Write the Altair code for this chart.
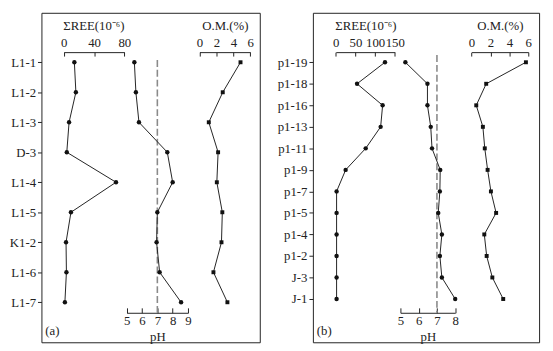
import altair as alt
import pandas as pd

# ---------------- data ----------------
samples_a = ["L1-1", "L1-2", "L1-3", "D-3", "L1-4", "L1-5", "K1-2", "L1-6", "L1-7"]
ree_a = [14, 16, 7, 4, 69, 9.5, 3, 3.5, 1.5]
ph_a = [5.5, 5.6, 5.8, 7.65, 8.0, 7.0, 6.95, 7.15, 8.55]
om_a = [4.85, 2.75, 1.1, 2.2, 2.05, 2.7, 2.6, 1.65, 3.3]

samples_b = ["p1-19", "p1-18", "p1-16", "p1-13", "p1-11", "p1-9",
             "p1-7", "p1-5", "p1-4", "p1-2", "J-3", "J-1"]
ree_b = [125, 54, 119, 114, 76, 25, 2, 2, 2, 2, 2, 2]
ph_b = [5.27, 6.48, 6.48, 6.66, 6.73, 7.18, 7.16, 7.07, 7.27, 7.16, 7.27, 8.0]
om_b = [5.75, 1.55, 0.5, 1.2, 1.4, 1.7, 2.05, 2.6, 1.35, 1.6, 2.2, 3.35]

ree_ticks_a = [0, 40, 80]
ph_ticks_a = [5, 6, 7, 8, 9]
ree_ticks_b = [0, 50, 100, 150]
ph_ticks_b = [5, 6, 7, 8]
om_ticks = [0, 2, 4, 6]
ph_neutral = [7]

REE_TITLE = "ΣREE(10⁻⁶)"
OM_TITLE = "O.M.(%)"
PH_TITLE = "pH"

FONT = "Liberation Serif"
FS = 13
INK = "#222"
H = 335          # plot height
TOP_AX = 40      # y of top axes inside the frame
BOT_AX = 305     # y of pH axis inside the frame


def tick_axis(orient, offset, ticks, size):
    return alt.Axis(orient=orient, offset=offset, values=ticks, labels=False, title=None,
                    ticks=True, tickSize=size, tickColor=INK, tickWidth=1,
                    domain=True, domainColor=INK, domainWidth=1, grid=False)


def label_axis(orient, offset, ticks, title, tx, ty, talign, pad=3):
    return alt.Axis(orient=orient, offset=offset, values=ticks, ticks=False, tickSize=0,
                    domain=False, grid=False, labelPadding=pad, labelFont=FONT,
                    labelFontSize=FS, labelColor=INK, labelFlush=False, labelOverlap=False,
                    title=title, titleFont=FONT, titleFontSize=FS, titleFontWeight="normal",
                    titleColor=INK, titleX=tx, titleY=ty, titleAlign=talign,
                    titleBaseline="middle", titleAngle=0)


def panel(samples, ree, ph, om, width, y_range, ree_dom, ree_rng, ree_ticks,
          ph_dom, ph_rng, ph_ticks, om_rng, rule_top, tag):
    df = pd.DataFrame({"sample": samples, "REE": ree, "pH": ph, "OM": om,
                       "order": list(range(len(samples)))})
    base = alt.Chart(df)
    y = alt.Y("sample:N", sort=samples,
              scale=alt.Scale(domain=samples, range=y_range, padding=0),
              axis=alt.Axis(title=None, orient="left", domain=False, ticks=True,
                            tickSize=4, tickColor=INK, labelPadding=2, labelFont=FONT,
                            labelFontSize=FS, labelColor=INK, grid=False))
    order = alt.Order("order:Q")

    ree_sc = alt.Scale(domain=ree_dom, range=ree_rng, nice=False, zero=False)
    ph_sc = alt.Scale(domain=ph_dom, range=ph_rng, nice=False, zero=False)
    om_sc = alt.Scale(domain=[0, 6], range=om_rng, nice=False, zero=False)

    line_kw = dict(color=INK, strokeWidth=1)
    pt_kw = dict(filled=True, color="#111", opacity=1)

    ree_line = base.mark_line(**line_kw).encode(
        x=alt.X("REE:Q", scale=ree_sc, axis=tick_axis("bottom", TOP_AX - H, ree_ticks, 4)),
        y=y, order=order)
    ree_pts = base.mark_point(shape="circle", size=20, **pt_kw).encode(
        x=alt.X("REE:Q", scale=ree_sc,
                axis=label_axis("top", -TOP_AX, ree_ticks, REE_TITLE, ree_rng[0] - 1, -27, "left")),
        y=y)

    ph_rule = alt.Chart(pd.DataFrame({"pH": ph_neutral})).mark_rule(
        strokeDash=[7, 3], color="#8a8a8a", strokeWidth=1.6).encode(
        x=alt.X("pH:Q", scale=ph_sc, axis=None),
        y=alt.value(rule_top), y2=alt.value(BOT_AX))
    ph_line = base.mark_line(**line_kw).encode(
        x=alt.X("pH:Q", scale=ph_sc, axis=tick_axis("top", -BOT_AX, ph_ticks, 5)),
        y=y, order=order)
    ph_pts = base.mark_point(shape="circle", size=20, **pt_kw).encode(
        x=alt.X("pH:Q", scale=ph_sc,
                axis=label_axis("bottom", BOT_AX - H, ph_ticks, PH_TITLE,
                                (ph_rng[0] + ph_rng[1]) / 2, 24, "center", pad=2)),
        y=y)

    om_line = base.mark_line(**line_kw).encode(
        x=alt.X("OM:Q", scale=om_sc, axis=tick_axis("bottom", TOP_AX - H, om_ticks, 4)),
        y=y, order=order)
    om_pts = base.mark_point(shape="square", size=16, **pt_kw).encode(
        x=alt.X("OM:Q", scale=om_sc,
                axis=label_axis("top", -TOP_AX, om_ticks, OM_TITLE,
                                (om_rng[0] + om_rng[1]) / 2, -27, "center")),
        y=y)

    tag_txt = alt.Chart(pd.DataFrame({"t": [tag]})).mark_text(
        align="left", baseline="middle", font=FONT, fontSize=FS, color=INK).encode(
        text="t:N", x=alt.value(4), y=alt.value(324))

    return alt.layer(ree_line, ree_pts, ph_rule, ph_line, ph_pts, om_line, om_pts, tag_txt
                     ).resolve_scale(x="independent").properties(width=width, height=H)


pa = panel(samples_a, ree_a, ph_a, om_a, 222, [50.3, 294.3],
           [0, 80], [22.7, 84.3], ree_ticks_a,
           [5, 9], [86.7, 149], ph_ticks_a, [160.7, 212.3], 48, "(a)")
pb = panel(samples_b, ree_b, ph_b, om_b, 230, [50.3, 291],
           [0, 150], [23.3, 83.3], ree_ticks_b,
           [5, 8], [89, 144.7], ph_ticks_b, [161.3, 219], 43, "(b)")

chart = alt.hconcat(pa, pb, spacing=54, bounds="flush").configure_view(
    stroke=INK, strokeWidth=1).properties(
    padding={"left": 0, "top": 1, "right": 5, "bottom": 5}, background="white")

chart.save("out.html", embed_options={"renderer": "svg", "actions": False})
